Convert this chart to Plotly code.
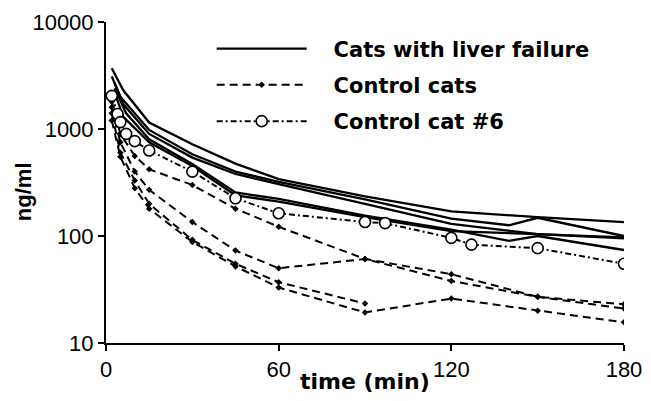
import plotly.graph_objects as go

# ---- data ----
liver_times = [
    [2, 6, 15, 30, 45, 60, 90, 120, 150, 180],
    [2, 5, 15, 30, 45, 60, 90, 120, 140, 150, 180],
    [3, 6, 15, 30, 45, 60, 90, 120, 150, 180],
    [3, 7, 15, 30, 45, 60, 90, 120, 140, 150, 180],
    [3, 6, 15, 30, 45, 60, 90, 120, 150, 180],
]
liver_values = [
    [3700, 2300, 1150, 720, 475, 340, 235, 170, 150, 135],
    [3100, 2000, 980, 580, 400, 320, 220, 145, 126, 148, 100],
    [2700, 1700, 900, 540, 380, 305, 200, 130, 104, 97],
    [2400, 1400, 800, 470, 255, 222, 155, 115, 90, 100, 74],
    [2200, 1300, 750, 450, 240, 210, 150, 111, 104, 95],
]

control_times = [
    [2, 5, 10, 15, 30, 45, 60, 90, 120, 150, 180],
    [2, 5, 10, 15, 30, 45, 60, 90, 120, 150, 180],
    [2, 5, 10, 15, 30, 45, 60, 90],
    [2, 5, 10, 15, 30, 45, 60, 90, 120, 150, 180],
]
control_values = [
    [1800, 900, 560, 420, 300, 180, 122, 61, 44, 27, 23],
    [1600, 750, 400, 270, 135, 73, 50, 61, 38, 27, 21],
    [1400, 600, 330, 200, 92, 55, 37, 23.4],
    [1200, 550, 280, 180, 88, 52, 33, 19.3, 26, 20, 15.6],
]

cat6_times = [2, 4, 5, 7, 10, 15, 30, 45, 60, 90, 97, 120, 127, 150, 180]
cat6_values = [2040, 1380, 1160, 900, 770, 630, 400, 225, 163, 135, 132, 96, 83, 77, 55]

x_ticks = [0, 60, 120, 180]
y_ticks = [10, 100, 1000, 10000]
y_tick_labels = ["10", "100", "1000", "10000"]

SANS = "Liberation Sans, Arial, sans-serif"
WIDE_BOLD = "DejaVu Sans, Liberation Sans, sans-serif"
PAD = "\u00a0\u00a0\u00a0"

fig = go.Figure()

for i, (t, v) in enumerate(zip(liver_times, liver_values)):
    fig.add_trace(go.Scatter(
        x=t, y=v, mode="lines",
        line=dict(color="black", width=2.3),
        name=PAD + "Cats with liver failure",
        legendgroup="liver", showlegend=(i == 0),
    ))

for i, (t, v) in enumerate(zip(control_times, control_values)):
    fig.add_trace(go.Scatter(
        x=t, y=v, mode="lines+markers",
        line=dict(color="black", width=2, dash="8px,5px"),
        marker=dict(symbol="diamond", size=5, color="black"),
        name=PAD + "Control cats",
        legendgroup="control", showlegend=(i == 0),
    ))

fig.add_trace(go.Scatter(
    x=cat6_times, y=cat6_values, mode="lines+markers",
    line=dict(color="black", width=2, dash="6px,3px,2px,3px"),
    marker=dict(symbol="circle", size=11, color="white",
                line=dict(color="black", width=1.6)),
    name=PAD + "Control cat #6",
    legendgroup="cat6", showlegend=True,
))

fig.update_layout(
    width=643, height=385,
    margin=dict(l=98, r=27, t=14, b=50),
    paper_bgcolor="white", plot_bgcolor="white",
    font=dict(family=SANS, color="black", size=18),
    showlegend=True,
    legend=dict(
        x=0.204, y=0.98, xanchor="left", yanchor="top",
        bgcolor="rgba(0,0,0,0)",
        font=dict(family=WIDE_BOLD, size=21, color="black", weight="bold"),
        itemwidth=90, tracegroupgap=6, traceorder="grouped",
    ),
    xaxis=dict(
        range=[0, 180], tickvals=x_ticks, ticks="outside", ticklen=6,
        tickwidth=1.5, tickcolor="black",
        showline=True, linecolor="black", linewidth=2,
        showgrid=False, zeroline=False,
        tickfont=dict(family=SANS, size=22),
        automargin=False,
    ),
    yaxis=dict(
        type="log", range=[1, 4], tickvals=y_ticks, ticktext=y_tick_labels,
        ticks="outside", ticklen=6, tickwidth=1.5, tickcolor="black",
        showline=True, linecolor="black", linewidth=2,
        showgrid=False, zeroline=False,
        tickfont=dict(family=SANS, size=22),
        automargin=False,
    ),
    annotations=[
        dict(
            text="time (min)", xref="paper", yref="paper", x=0.5, y=0,
            yshift=-38, xanchor="center", yanchor="middle", showarrow=False,
            font=dict(family=WIDE_BOLD, size=22, weight="bold"),
        ),
        dict(
            text="ng/ml", xref="paper", yref="paper", x=0, y=0.47,
            xshift=-83, xanchor="center", yanchor="middle", showarrow=False,
            textangle=-90,
            font=dict(family=SANS, size=22, weight="bold"),
        ),
    ],
)

fig.write_html("out.html")
